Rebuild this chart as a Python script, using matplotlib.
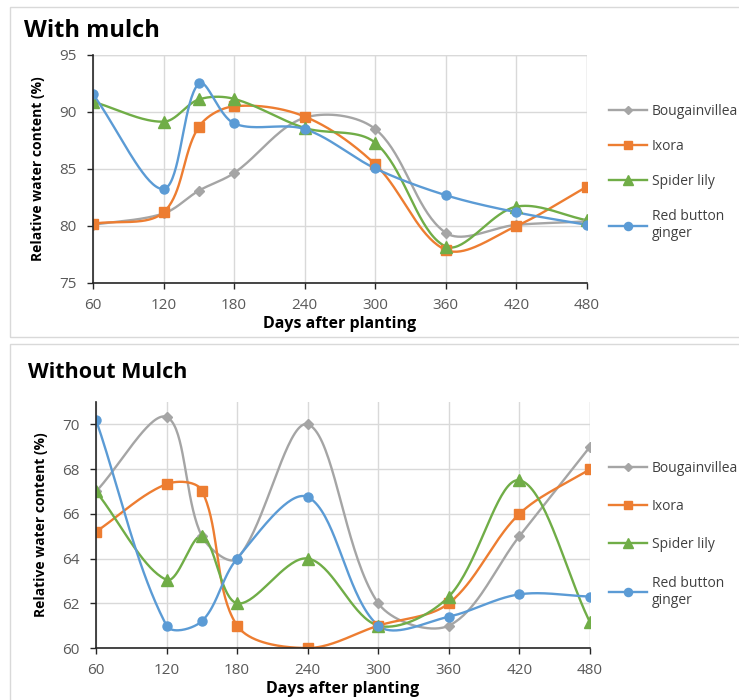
import numpy as np
import matplotlib.pyplot as plt
from matplotlib.lines import Line2D
from matplotlib.patches import Rectangle

plt.rcParams['font.family'] = ['Open Sans', 'DejaVu Sans']

days = [60, 120, 150, 180, 240, 300, 360, 420, 480]
species = ['Bougainvillea', 'Ixora', 'Spider lily', 'Red button\nginger']

# with mulch
wm_bougainvillea = [80.1, 81.1, 83.1, 84.65, 89.5, 88.5, 79.4, 80.1, 80.4]
wm_ixora = [80.2, 81.2, 88.7, 90.5, 89.6, 85.4, 77.9, 80.0, 83.45]
wm_spider = [90.9, 89.15, 91.1, 91.15, 88.6, 87.3, 78.2, 81.7, 80.5]
wm_ginger = [91.55, 83.25, 92.5, 89.0, 88.5, 85.05, 82.7, 81.2, 80.1]

# without mulch
nm_bougainvillea = [67.0, 70.33, 65.0, 64.0, 70.0, 62.0, 61.0, 65.0, 69.0]
nm_ixora = [65.2, 67.33, 67.04, 61.0, 60.0, 61.0, 62.0, 66.0, 68.0]
nm_spider = [67.0, 63.05, 65.0, 62.0, 64.0, 61.0, 62.3, 67.5, 61.15]
nm_ginger = [70.2, 61.0, 61.2, 64.0, 66.75, 61.0, 61.4, 62.4, 62.3]

colors = ['#A5A5A5', '#ED7D31', '#70AD47', '#5B9BD5']
markers = ['D', 's', '^', 'o']
msizes = [5, 6.5, 8, 6.5]


def smooth(x, y, sx, sy, n=40):
    # excel-like smoothed line, tangents scaled by segment lengths (screen space)
    pts = np.column_stack([x, y]).astype(float)
    p = np.vstack([pts[0], pts, pts[-1]])
    scr = p * [sx, sy]
    t = np.linspace(0, 1, n)[:, None]
    segs = []
    for i in range(1, len(p) - 2):
        p0, p1, p2, p3 = p[i - 1], p[i], p[i + 1], p[i + 2]
        d01 = np.hypot(*(scr[i] - scr[i - 1]))
        d12 = np.hypot(*(scr[i + 1] - scr[i]))
        d23 = np.hypot(*(scr[i + 2] - scr[i + 1]))
        k1 = 2 * d12 / (d01 + d12) if d01 + d12 > 0 else 1
        k2 = 2 * d12 / (d12 + d23) if d12 + d23 > 0 else 1
        c1 = p1 + (p2 - p0) / 6 * k1
        c2 = p2 - (p3 - p1) / 6 * k2
        seg = (1 - t)**3 * p1 + 3 * (1 - t)**2 * t * c1 + 3 * (1 - t) * t**2 * c2 + t**3 * p2
        segs.append(seg)
    s = np.vstack(segs)
    return s[:, 0], s[:, 1]


def panel(ax, series, ymin, ymax, ystep, top_grid, h_px):
    sx = 494 / 420
    sy = h_px / (ymax - ymin)
    for i, vals in enumerate(series):
        xs, ys = smooth(days, vals, sx, sy)
        ax.plot(xs, ys, color=colors[i], lw=1.7, zorder=3)
        ax.plot(days, vals, ls='none', marker=markers[i], ms=msizes[i],
                color=colors[i], zorder=4)
    ax.set_xlim(60, 480)
    ax.set_ylim(ymin, ymax)
    ax.set_xticks(range(60, 481, 60))
    ax.set_yticks(np.arange(ymin, ymax + 0.01 if top_grid else ymax, ystep))
    ax.grid(True, color='#D9D9D9', lw=1)
    ax.set_axisbelow(True)
    for s in ['top', 'right']:
        ax.spines[s].set_visible(False)
    for s in ['left', 'bottom']:
        ax.spines[s].set_color('#262626')
        ax.spines[s].set_linewidth(1.2)
    ax.tick_params(colors='#262626', labelcolor='#595959', labelsize=11,
                   length=4, width=1)
    ax.tick_params(axis='x', pad=7)
    ax.tick_params(axis='y', pad=8)
    ax.set_xlabel('Days after planting', fontsize=11.5, fontweight='bold', labelpad=2)
    ax.set_ylabel('Relative water content (%)', fontsize=10, fontweight='bold', labelpad=10)
    if top_grid:
        ax.axhline(ymax, color='#D9D9D9', lw=1, zorder=0)
    ax.axvline(480, color='#D9D9D9', lw=1, zorder=0)
    for sp in ax.spines.values():
        sp.set_zorder(5)


fig = plt.figure(figsize=(7.39, 7.0), dpi=100)

# chart area borders
fig.patches.append(Rectangle((10 / 739, 1 - 337 / 700), 735 / 739, 330 / 700,
                             transform=fig.transFigure, fill=False,
                             edgecolor='#D9D9D9', lw=1))
fig.patches.append(Rectangle((10 / 739, -0.01), 735 / 739, 1 - 344 / 700 + 0.01,
                             transform=fig.transFigure, fill=False,
                             edgecolor='#D9D9D9', lw=1))

ax1 = fig.add_axes([93 / 739, 1 - 283 / 700, 494 / 739, 228 / 700])
panel(ax1, [wm_bougainvillea, wm_ixora, wm_spider, wm_ginger], 75, 95, 5, True, 228)

ax2 = fig.add_axes([96 / 739, 1 - 648 / 700, 494 / 739, 246 / 700])
panel(ax2, [nm_bougainvillea, nm_ixora, nm_spider, nm_ginger], 60, 71, 2, False, 246)

fig.text(24 / 739, 1 - 31 / 700, 'With mulch', fontsize=17, fontweight='bold',
         va='center', ha='left')
fig.text(28 / 739, 1 - 372 / 700, 'Without Mulch', fontsize=15.5, fontweight='bold',
         va='center', ha='left')

handles = [Line2D([], [], color=colors[i], marker=markers[i], ms=msizes[i] * 0.9, lw=1.7)
           for i in range(4)]
for y, sp in [(1 - 98 / 700, 1.45), (1 - 455 / 700, 1.68)]:
    fig.legend(handles, species, loc='upper left', bbox_to_anchor=(603 / 739, y),
               frameon=False, fontsize=10, labelcolor='#404040', handlelength=2.8,
               handletextpad=0.3, labelspacing=sp, borderaxespad=0)

fig.savefig('out.png', dpi=100)
